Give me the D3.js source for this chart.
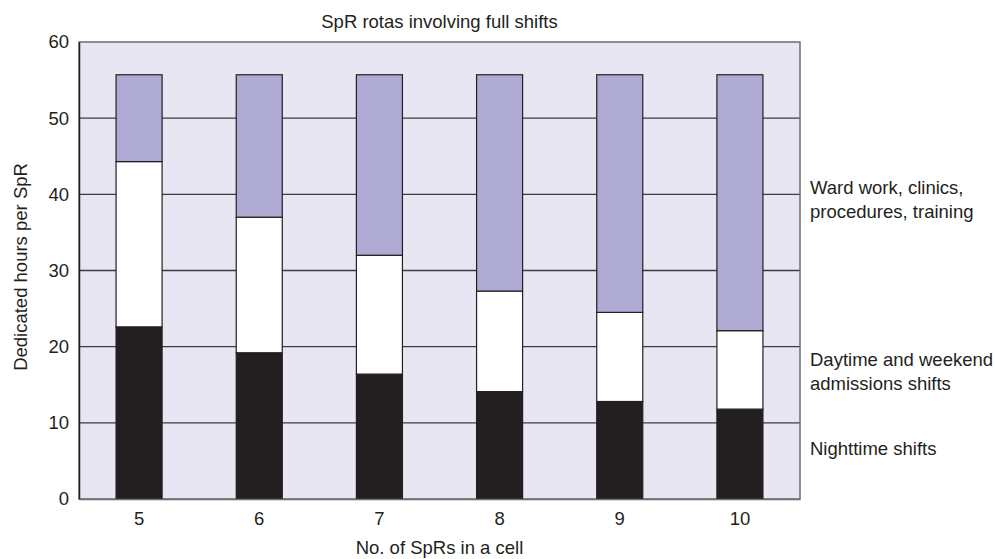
<!DOCTYPE html>
<html>
<head>
<meta charset="utf-8">
<script src="https://cdn.jsdelivr.net/npm/d3@7"></script>
<style>
  body { margin: 0; background: #fff; }
  text { font-family: "Liberation Sans", Arial, sans-serif; fill: #231f20; }
</style>
</head>
<body>
<div id="chart"></div>
<script>
// Data
const cellSizes = ["5", "6", "7", "8", "9", "10"];
const nighttime = [22.6, 19.2, 16.4, 14.1, 12.8, 11.8];
const daytime = [21.7, 17.8, 15.6, 13.2, 11.7, 10.3];
const wardWork = [11.4, 18.7, 23.7, 28.4, 31.2, 33.6];
const yTicks = [0, 10, 20, 30, 40, 50, 60];
const seriesKeys = ["night", "day", "ward"];
const seriesLabels = [
    ["Nighttime shifts"],
    ["Daytime and weekend", "admissions shifts"],
    ["Ward work, clinics,", "procedures, training"]
];

const chartWidth = 995;
const chartHeight = 559;
const margin = {top: 42, right: 195, bottom: 60, left: 79};
const colors = {night: "#231f20", day: "#ffffff", ward: "#aeaad3"};
const fontSize = 18.5;
// baseline of first line of each side label, in axis units
const labelAnchor = [5.8, 17.5, 40];

const rows = cellSizes.map((c, i) => ({
    cell: c, night: nighttime[i], day: daytime[i], ward: wardWork[i]
}));
const stacked = d3.stack().keys(seriesKeys)(rows);

const xScale = d3.scaleBand()
    .domain(cellSizes)
    .range([margin.left, chartWidth - margin.right])
    .paddingInner(0.617)
    .paddingOuter(0.3085);

const yScale = d3.scaleLinear()
    .domain([0, 60])
    .range([chartHeight - margin.bottom, margin.top]);

const svg = d3.select("#chart")
    .append("svg")
    .attr("width", chartWidth)
    .attr("height", chartHeight);

// plot background
svg.append("rect")
    .attr("x", margin.left)
    .attr("y", margin.top)
    .attr("width", chartWidth - margin.right - margin.left)
    .attr("height", yScale(0) - margin.top)
    .attr("fill", "#e8e6f2");

// gridlines
svg.append("g")
    .selectAll("line")
    .data(yTicks.filter(t => t > 0 && t < 60))
    .join("line")
    .attr("x1", margin.left)
    .attr("x2", chartWidth - margin.right)
    .attr("y1", d => yScale(d))
    .attr("y2", d => yScale(d))
    .attr("stroke", "#3c3c3f")
    .attr("stroke-width", 1.3);

// frame
svg.append("rect")
    .attr("x", margin.left)
    .attr("y", margin.top)
    .attr("width", chartWidth - margin.right - margin.left)
    .attr("height", yScale(0) - margin.top)
    .attr("fill", "none")
    .attr("stroke", "#6d6e71")
    .attr("stroke-width", 1.5);

// bars
svg.append("g")
    .selectAll("g")
    .data(stacked)
    .join("g")
    .attr("fill", d => colors[d.key])
    .selectAll("rect")
    .data(d => d)
    .join("rect")
    .attr("x", d => xScale(d.data.cell))
    .attr("y", d => yScale(d[1]))
    .attr("width", xScale.bandwidth())
    .attr("height", d => yScale(d[0]) - yScale(d[1]))
    .attr("stroke", "#231f20")
    .attr("stroke-width", 1.2);

// axes
const yAxis = d3.axisLeft(yScale).tickValues(yTicks).tickSize(0).tickPadding(10);
const yG = svg.append("g")
    .attr("transform", "translate(" + margin.left + ",0)")
    .call(yAxis);
yG.select(".domain").attr("stroke", "#231f20").attr("stroke-width", 1.5);
yG.selectAll("text").attr("font-size", fontSize).style("fill", "#231f20");

const xAxis = d3.axisBottom(xScale).tickSize(0).tickPadding(13);
const xG = svg.append("g")
    .attr("transform", "translate(0," + yScale(0) + ")")
    .call(xAxis);
xG.select(".domain").attr("stroke", "#6d6e71").attr("stroke-width", 1.5);
xG.selectAll("text").attr("font-size", fontSize).style("fill", "#231f20");

// titles
svg.append("text")
    .attr("x", (margin.left + chartWidth - margin.right) / 2)
    .attr("y", 28)
    .attr("text-anchor", "middle")
    .attr("font-size", fontSize)
    .text("SpR rotas involving full shifts");

svg.append("text")
    .attr("x", (margin.left + chartWidth - margin.right) / 2)
    .attr("y", 554)
    .attr("text-anchor", "middle")
    .attr("font-size", fontSize)
    .text("No. of SpRs in a cell");

svg.append("text")
    .attr("transform", "translate(27," + 267 + ") rotate(-90)")
    .attr("text-anchor", "middle")
    .attr("font-size", fontSize)
    .text("Dedicated hours per SpR");

// series labels on the right
seriesLabels.forEach((lines, i) => {
    const t = svg.append("text")
        .attr("x", chartWidth - margin.right + 10)
        .attr("y", yScale(labelAnchor[i]))
        .attr("font-size", fontSize);
    lines.forEach((l, j) => {
        t.append("tspan")
            .attr("x", chartWidth - margin.right + 10)
            .attr("dy", j === 0 ? 0 : 24)
            .text(l);
    });
});
</script>
</body>
</html>
